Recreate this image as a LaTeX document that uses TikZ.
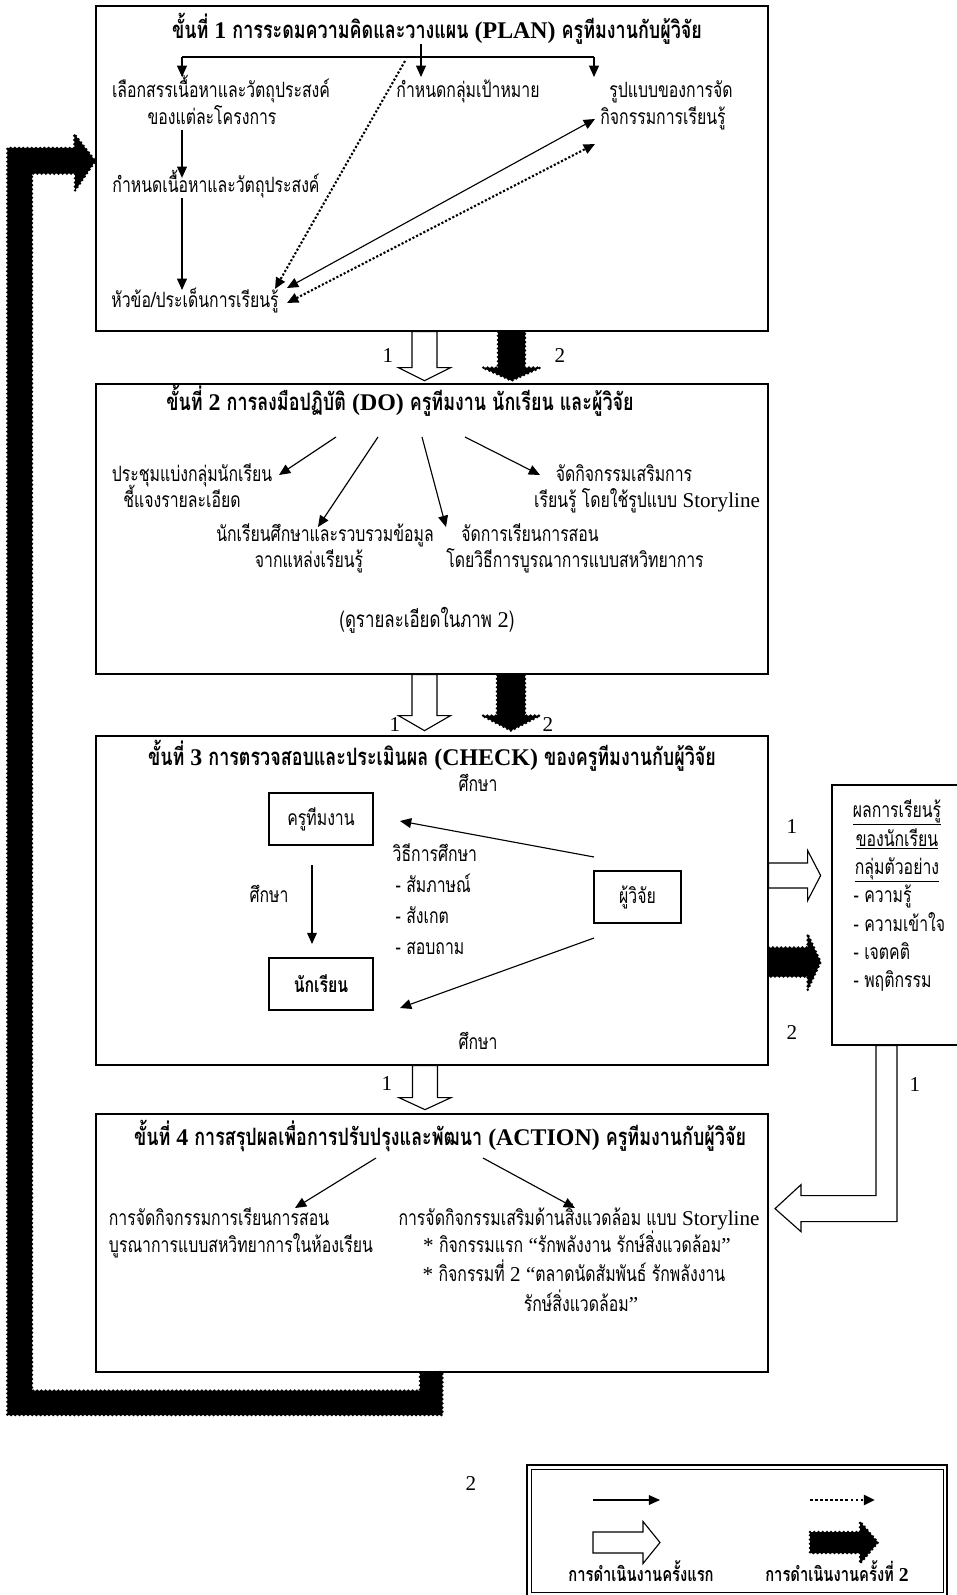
\documentclass[tikz,border=0pt]{standalone}
\usepackage{fontspec}
\setmainfont[Script=Thai,FakeStretch=0.75]{Loma}
\newfontfamily\lat{Liberation Serif}
\usetikzlibrary{arrows.meta,fit}
\newcommand{\bodyfont}{\fontsize{15}{18}\selectfont}
\newcommand{\titlefont}{\fontsize{17}{20}\selectfont\bfseries}
\newcommand{\numfont}{\lat\fontsize{15}{18}\selectfont}
\newcommand{\pdcatext}[3] {\node at (#1) (#2) [txt] {#3};}
\newcommand{\pdcatitle}[3] {\node at (#1) (#2) [ttl] {#3};}
\newcommand{\pdcaflow}[2] {\draw [flow] (#1) -- (#2);}
\newcommand{\pdcadots}[2] {\draw [flowdot] (#1) -- (#2);}
\newcommand{\blockdown}[6] {\draw [#1] (#2) ++(-#4,0) -- ++(0,#3) -- ++(#4-#5,0) -- ++(#5,#6) -- ++(#5,-#6) -- ++(#4-#5,0) -- ++(0,-#3) -- cycle;}
\newcommand{\blockright}[6] {\draw [#1] (#2) ++(0,-#4) -- ++(#3,0) -- ++(0,#4-#5) -- ++(#6,#5) -- ++(-#6,#5) -- ++(0,#4-#5) -- ++(-#3,0) -- cycle;}
\tikzset{
  stagebox/.style={draw, line width=0.9pt, inner sep=0pt},
  smallbox/.style={draw, line width=0.9pt, minimum width=2.6cm, minimum height=1.3cm, inner sep=0pt, font=\bodyfont},
  txt/.style={inner sep=1pt, text height=9pt, text depth=3pt, font=\bodyfont},
  ttl/.style={inner sep=1pt, text height=9pt, text depth=3pt, font=\titlefont},
  num/.style={inner sep=0pt, font=\numfont},
  flow/.style={-{Triangle[length=8pt,width=7pt]}, line width=0.8pt},
  flowdot/.style={flow, dash pattern=on 1.5pt off 1.4pt, line width=1.5pt},
  both/.style={{Triangle[length=8pt,width=7pt]}-{Triangle[length=8pt,width=7pt]}, line width=0.8pt},
  bothdot/.style={both, dash pattern=on 1.5pt off 1.4pt, line width=1.5pt},
  hollow/.style={draw, fill=white, line width=0.8pt},
  blackblk/.style={fill=black, draw=black, line width=2pt, dash pattern=on 0pt off 3pt, line cap=round, line join=round}
}

\begin{document}
\begin{tikzpicture}[x=0.025cm, y=-0.025cm]
\useasboundingbox (0,0) rectangle (956,1595);

\node (plan) [stagebox, fit={(96,6) (768,331)}] {};
\node (do) [stagebox, fit={(96,384) (768,674)}] {};
\node (check) [stagebox, fit={(96,736) (768,1065)}] {};
\node (act) [stagebox, fit={(96,1114) (768,1372)}] {};
\node (lrn) [stagebox, fit={(832,785) (990,1045)}] {};

\pdcatitle {437,34}{t1}{ขั้นที่ {\lat 1} การระดมความคิดและวางแผน {\lat (PLAN)} ครูทีมงานกับผู้วิจัย};
\pdcatext {221,93}{sel}{เลือกสรรเนื้อหาและวัตถุประสงค์};
\pdcatext {212,120}{sel2}{ของแต่ละโครงการ};
\pdcatext {468,93}{grp}{กำหนดกลุ่มเป้าหมาย};
\pdcatext {671,93}{form}{รูปแบบของการจัด};
\pdcatext {663,120}{form2}{กิจกรรมการเรียนรู้};
\pdcatext {216,188}{cont}{กำหนดเนื้อหาและวัตถุประสงค์};
\pdcatext {195,303}{topic}{หัวข้อ/ประเด็นการเรียนรู้};

\coordinate (barl) at (182,57);
\coordinate (barr) at (594,57);
\coordinate (selin) at (182,77);
\coordinate (grpin) at (421,77);
\coordinate (formin) at (594,77);
\coordinate (topicin) at (182,290);
\coordinate (dotfrom) at (405,61);
\coordinate (dotto) at (275,289);
\coordinate (tpa) at (287,288);
\coordinate (fma) at (595,119);
\coordinate (tpb) at (287,303);
\coordinate (fmb) at (595,144);
\draw [line width=0.8pt] (barl) -- (barr);
\pdcaflow{grpin |- t1.south}{grpin};
\pdcaflow{barl}{selin};
\pdcaflow{barr}{formin};
\pdcaflow{barl |- sel2.south}{barl |- cont.north};
\pdcaflow{barl |- cont.south}{topicin};
\pdcadots{dotfrom}{dotto};
\draw [both] (tpa) -- (fma);
\draw [bothdot] (tpb) -- (fmb);

\pdcatitle {400,406}{t2}{ขั้นที่ {\lat 2} การลงมือปฏิบัติ {\lat (DO)} ครูทีมงาน นักเรียน และผู้วิจัย};
\pdcatext {192,477}{meet}{ประชุมแบ่งกลุ่มนักเรียน};
\pdcatext {182,503}{meet2}{ชี้แจงรายละเอียด};
\pdcatext {325,537}{stud}{นักเรียนศึกษาและรวบรวมข้อมูล};
\pdcatext {309,563}{stud2}{จากแหล่งเรียนรู้};
\pdcatext {530,537}{teach}{จัดการเรียนการสอน};
\pdcatext {575,563}{teach2}{โดยวิธีการบูรณาการแบบสหวิทยาการ};
\pdcatext {624,477}{extra}{จัดกิจกรรมเสริมการ};
\pdcatext {647,503}{extra2}{เรียนรู้ โดยใช้รูปแบบ {\lat Storyline}};
\node at (427,623) (see) [txt, font=\fontsize{16}{19}\selectfont] {(ดูรายละเอียดในภาพ {\lat 2})};

\coordinate (dofrom1) at (336,437);
\coordinate (dofrom2) at (378,437);
\coordinate (dofrom3) at (422,437);
\coordinate (dofrom4) at (465,437);
\coordinate (meetin) at (279,475);
\coordinate (studin) at (318,527);
\coordinate (teachin) at (446,527);
\coordinate (extrain) at (540,475);
\pdcaflow{dofrom1}{meetin};
\pdcaflow{dofrom2}{studin};
\pdcaflow{dofrom3}{teachin};
\pdcaflow{dofrom4}{extrain};

\pdcatitle {432,761}{t3}{ขั้นที่ {\lat 3} การตรวจสอบและประเมินผล {\lat (CHECK)} ของครูทีมงานกับผู้วิจัย};
\node at (321,819) (kru) [smallbox] {ครูทีมงาน};
\node at (321,984) (stu) [smallbox, font=\bodyfont\bfseries] {นักเรียน};
\node at (637.5,897) (res) [smallbox, minimum width=2.175cm] {ผู้วิจัย};
\pdcatext {478,787}{study1}{ศึกษา};
\pdcatext {269,898}{study2}{ศึกษา};
\pdcatext {478,1045}{study3}{ศึกษา};
\node at (391,857) (how) [txt, anchor=west] {วิธีการศึกษา};
\node at (394,888) (how1) [txt, anchor=west] {- สัมภาษณ์};
\node at (394,919) (how2) [txt, anchor=west] {- สังเกต};
\node at (394,950) (how3) [txt, anchor=west] {- สอบถาม};

\coordinate (resup) at (594,857);
\coordinate (resdown) at (594,938);
\coordinate (kruin) at (400,821);
\coordinate (stuin) at (400,1008);
\coordinate (krudown) at (312,865);
\coordinate (stutop) at (312,944);
\pdcaflow{resup}{kruin};
\pdcaflow{resdown}{stuin};
\pdcaflow{krudown}{stutop};

\node at (897,813) (l1) [txt] {\underline{ผลการเรียนรู้}};
\node at (897,842) (l2) [txt] {\underline{ของนักเรียน}};
\node at (897,870) (l3) [txt] {\underline{กลุ่มตัวอย่าง}};
\node at (852,898) (l4) [txt, anchor=west] {- ความรู้};
\node at (852,927) (l5) [txt, anchor=west] {- ความเข้าใจ};
\node at (852,955) (l6) [txt, anchor=west] {- เจตคติ};
\node at (852,983) (l7) [txt, anchor=west] {- พฤติกรรม};

\pdcatitle {440,1141}{t4}{ขั้นที่ {\lat 4} การสรุปผลเพื่อการปรับปรุงและพัฒนา {\lat (ACTION)} ครูทีมงานกับผู้วิจัย};
\pdcatext {219,1221}{inclass}{การจัดกิจกรรมการเรียนการสอน};
\pdcatext {241,1248}{inclass2}{บูรณาการแบบสหวิทยาการในห้องเรียน};
\pdcatext {579,1221}{env}{การจัดกิจกรรมเสริมด้านสิ่งแวดล้อม แบบ {\lat Storyline}};
\pdcatext {577,1248}{env2}{{\lat *} กิจกรรมแรก {\lat “}รักพลังงาน รักษ์สิ่งแวดล้อม{\lat ”}};
\pdcatext {574,1277}{env3}{{\lat *} กิจกรรมที่ {\lat 2} {\lat “}ตลาดนัดสัมพันธ์ รักพลังงาน};
\pdcatext {581,1307}{env4}{รักษ์สิ่งแวดล้อม{\lat ”}};

\coordinate (actfrom1) at (376,1158);
\coordinate (actfrom2) at (483,1158);
\coordinate (inclassin) at (295,1208);
\coordinate (envin) at (575,1208);
\pdcaflow{actfrom1}{inclassin};
\pdcaflow{actfrom2}{envin};

\coordinate (pd1) at (424.5,0 |- plan.south);
\coordinate (pd2) at (511.5,0 |- plan.south);
\coordinate (dc1) at (424.5,0 |- do.south);
\coordinate (dc2) at (511,0 |- do.south);
\coordinate (ca1) at (425,0 |- check.south);
\coordinate (cl1) at (check.east |- 0,875.5);
\coordinate (cl2) at (check.east |- 0,962);
\coordinate (lrnout) at (876,0 |- lrn.south);
\coordinate (actout) at (431.5,0 |- act.south);
\blockdown{hollow}{pd1}{36}{12.5}{26}{13};
\blockdown{blackblk}{pd2}{36}{13.5}{29}{13};
\blockdown{hollow}{dc1}{41}{12.5}{26}{15};
\blockdown{blackblk}{dc2}{41}{14}{29}{15};
\blockdown{hollow}{ca1}{32}{12.5}{26}{12};
\blockright{hollow}{cl1}{39}{12.5}{25}{13};
\blockright{blackblk}{cl2}{39}{14.5}{28}{13};
\draw [hollow] (lrnout) -- ++(0,150) -- ++(-75,0) -- ++(0,-11) -- ++(-26,24) -- ++(26,23) -- ++(0,-10) -- ++(96,0) -- ++(0,-176) -- cycle;
\draw [blackblk] (actout) ++(-11.5,0) -- ++(0,18) -- ++(-388,0) -- ++(0,-1217) -- ++(43,0) -- ++(0,17) -- (plan.west |- 0,161) -- ++(-21,-27) -- ++(0,14) -- ++(-67,0) -- ++(0,1267) -- ++(435,0) -- ++(0,-43) -- cycle;

\node at (388,356) (n1a) [num] {1};
\node at (560,356) (n2a) [num] {2};
\node at (395,725) (n1b) [num] {1};
\node at (548,725) (n2b) [num] {2};
\node at (387,1084) (n1c) [num] {1};
\node at (792,827) (n1d) [num] {1};
\node at (792,1033) (n2d) [num] {2};
\node at (915,1085) (n1e) [num] {1};
\node at (471,1483) (n2e) [num] {2};

\node (legend) [draw, line width=1.4pt, inner sep=0pt, fit={(527,1465) (947,1600)}] {};
\node (legendin) [draw, line width=0.6pt, inner sep=0pt, fit={(531,1469) (943,1592)}] {};
\coordinate (ka) at (593,1500);
\coordinate (kb) at (660,1500);
\coordinate (kc) at (810,1500);
\coordinate (kd) at (875,1500);
\coordinate (ke) at (593,1542.5);
\coordinate (kf) at (810,1542.5);
\pdcaflow{ka}{kb};
\draw [flow, dash pattern=on 2pt off 1.6pt, line width=2pt] (kc) -- (kd);
\blockright{hollow}{ke}{50}{10.5}{21}{17};
\blockright{blackblk}{kf}{50}{10.5}{21}{18};
\node at (641,1577) (first) [txt, font=\fontsize{14}{17}\selectfont\bfseries] {การดำเนินงานครั้งแรก};
\node at (837,1577) (second) [txt, font=\fontsize{14}{17}\selectfont\bfseries] {การดำเนินงานครั้งที่ {\lat 2}};

\end{tikzpicture}
\end{document}
